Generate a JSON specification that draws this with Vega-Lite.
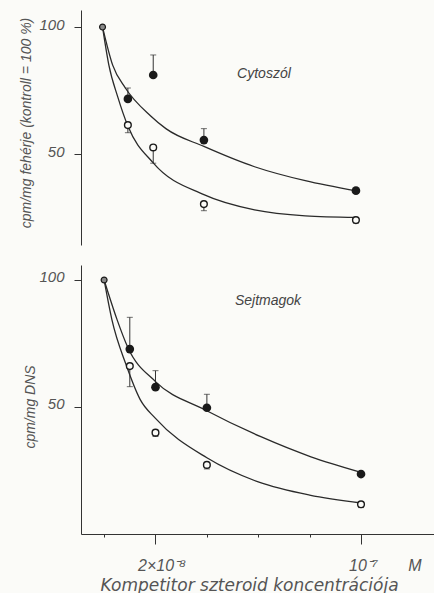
{
  "$schema": "https://vega.github.io/schema/vega-lite/v6.json",
  "background": "#fbfbf8",
  "padding": {"left": 18, "top": 10, "right": 0, "bottom": 0},
  "bounds": "flush",
  "spacing": 20,
  "config": {
    "view": {"stroke": null},
    "axis": {
      "grid": false,
      "labelFont": "Liberation Sans",
      "titleFont": "Liberation Sans",
      "labelFontStyle": "italic",
      "titleFontStyle": "italic",
      "titleFontWeight": "normal",
      "labelColor": "#555",
      "titleColor": "#555",
      "domainColor": "#333",
      "tickColor": "#333"
    },
    "text": {"font": "Liberation Sans"}
  },
  "datasets": {
    "points": [
      {"panel": "Cytoszól", "group": "control", "x": 0, "y": 100},
      {"panel": "Cytoszól", "group": "filled", "x": 1, "y": 71.7},
      {"panel": "Cytoszól", "group": "filled", "x": 2, "y": 81.1},
      {"panel": "Cytoszól", "group": "filled", "x": 4, "y": 55.5},
      {"panel": "Cytoszól", "group": "filled", "x": 10, "y": 35.6},
      {"panel": "Cytoszól", "group": "open", "x": 1, "y": 61.4},
      {"panel": "Cytoszól", "group": "open", "x": 2, "y": 52.6},
      {"panel": "Cytoszól", "group": "open", "x": 4, "y": 30.3},
      {"panel": "Cytoszól", "group": "open", "x": 10, "y": 24},
      {"panel": "Sejtmagok", "group": "control", "x": 0, "y": 100},
      {"panel": "Sejtmagok", "group": "filled", "x": 1, "y": 72.8},
      {"panel": "Sejtmagok", "group": "filled", "x": 2, "y": 57.8},
      {"panel": "Sejtmagok", "group": "filled", "x": 4, "y": 49.7},
      {"panel": "Sejtmagok", "group": "filled", "x": 10, "y": 23.6},
      {"panel": "Sejtmagok", "group": "open", "x": 1, "y": 66.1},
      {"panel": "Sejtmagok", "group": "open", "x": 2, "y": 39.9},
      {"panel": "Sejtmagok", "group": "open", "x": 4, "y": 27.2},
      {"panel": "Sejtmagok", "group": "open", "x": 10, "y": 11.7}
    ],
    "errors": [
      {"panel": "Cytoszól", "group": "filled", "x": 1, "y": 71.7, "yEnd": 76},
      {"panel": "Cytoszól", "group": "filled", "x": 2, "y": 81.1, "yEnd": 89},
      {"panel": "Cytoszól", "group": "filled", "x": 4, "y": 55.5, "yEnd": 60},
      {"panel": "Cytoszól", "group": "open", "x": 1, "y": 61.4, "yEnd": 58.4},
      {"panel": "Cytoszól", "group": "open", "x": 2, "y": 52.6, "yEnd": 46.4},
      {"panel": "Cytoszól", "group": "open", "x": 4, "y": 30.3, "yEnd": 27.7},
      {"panel": "Cytoszól", "group": "open", "x": 10, "y": 24, "yEnd": 22.8},
      {"panel": "Sejtmagok", "group": "filled", "x": 1, "y": 72.8, "yEnd": 85.3},
      {"panel": "Sejtmagok", "group": "filled", "x": 2, "y": 57.8, "yEnd": 64.3},
      {"panel": "Sejtmagok", "group": "filled", "x": 4, "y": 49.7, "yEnd": 55},
      {"panel": "Sejtmagok", "group": "open", "x": 1, "y": 66.1, "yEnd": 58},
      {"panel": "Sejtmagok", "group": "open", "x": 2, "y": 39.9, "yEnd": 38.4},
      {"panel": "Sejtmagok", "group": "open", "x": 4, "y": 27.2, "yEnd": 25.6},
      {"panel": "Sejtmagok", "group": "open", "x": 10, "y": 11.7, "yEnd": 10.4}
    ],
    "curves": [
      {"panel": "Cytoszól", "group": "filled", "x": 0, "y": 100},
      {"panel": "Cytoszól", "group": "filled", "x": 0.4, "y": 85},
      {"panel": "Cytoszól", "group": "filled", "x": 0.9, "y": 76},
      {"panel": "Cytoszól", "group": "filled", "x": 1.9, "y": 65},
      {"panel": "Cytoszól", "group": "filled", "x": 2.5, "y": 60},
      {"panel": "Cytoszól", "group": "filled", "x": 4, "y": 53},
      {"panel": "Cytoszól", "group": "filled", "x": 6, "y": 45},
      {"panel": "Cytoszól", "group": "filled", "x": 8, "y": 39.5},
      {"panel": "Cytoszól", "group": "filled", "x": 10, "y": 35.5},
      {"panel": "Cytoszól", "group": "open", "x": 0, "y": 100},
      {"panel": "Cytoszól", "group": "open", "x": 0.25, "y": 85},
      {"panel": "Cytoszól", "group": "open", "x": 0.6, "y": 72.5},
      {"panel": "Cytoszól", "group": "open", "x": 1, "y": 61},
      {"panel": "Cytoszól", "group": "open", "x": 2, "y": 46.5},
      {"panel": "Cytoszól", "group": "open", "x": 4, "y": 34},
      {"panel": "Cytoszól", "group": "open", "x": 6, "y": 28},
      {"panel": "Cytoszól", "group": "open", "x": 8, "y": 25.7},
      {"panel": "Cytoszól", "group": "open", "x": 10, "y": 25.1},
      {"panel": "Sejtmagok", "group": "filled", "x": 0, "y": 100},
      {"panel": "Sejtmagok", "group": "filled", "x": 0.5, "y": 84.5},
      {"panel": "Sejtmagok", "group": "filled", "x": 0.92, "y": 73.5},
      {"panel": "Sejtmagok", "group": "filled", "x": 2, "y": 60},
      {"panel": "Sejtmagok", "group": "filled", "x": 3.9, "y": 49},
      {"panel": "Sejtmagok", "group": "filled", "x": 6.1, "y": 38.3},
      {"panel": "Sejtmagok", "group": "filled", "x": 8.05, "y": 30.4},
      {"panel": "Sejtmagok", "group": "filled", "x": 10, "y": 24.3},
      {"panel": "Sejtmagok", "group": "open", "x": 0, "y": 100},
      {"panel": "Sejtmagok", "group": "open", "x": 0.3, "y": 84.5},
      {"panel": "Sejtmagok", "group": "open", "x": 0.86, "y": 66.5},
      {"panel": "Sejtmagok", "group": "open", "x": 1.4, "y": 53},
      {"panel": "Sejtmagok", "group": "open", "x": 2, "y": 45.5},
      {"panel": "Sejtmagok", "group": "open", "x": 4, "y": 30},
      {"panel": "Sejtmagok", "group": "open", "x": 6, "y": 20.5},
      {"panel": "Sejtmagok", "group": "open", "x": 8, "y": 15.3},
      {"panel": "Sejtmagok", "group": "open", "x": 10, "y": 12.2}
    ],
    "labels": [
      {"panel": "Cytoszól", "x": 6.37, "y": 81.5, "label": "Cytoszól"},
      {"panel": "Sejtmagok", "x": 6.38, "y": 91.7, "label": "Sejtmagok"}
    ]
  },
  "resolve": {"scale": {"x": "independent", "y": "independent"}},
  "vconcat": [
    {
      "width": 354,
      "height": 235,
      "encoding": {
        "x": {"field": "x", "type": "quantitative", "scale": {"domain": [-0.85, 13.12], "nice": false, "zero": false}, "axis": null},
        "y": {
          "field": "y", "type": "quantitative",
          "scale": {"domain": [14.2, 106.7], "nice": false, "zero": false},
          "axis": {
            "title": "cpm/mg fehérje (kontroll = 100 %)",
            "values": [50, 100],
            "tickSize": 7,
            "labelPadding": 10,
            "labelFontSize": 15,
            "labelBaseline": "middle",
            "labelOffset": -3,
            "titleFontSize": 14,
            "titleX": -55,
            "titleY": 112.5,
            "titleBaseline": "middle"
          }
        }
      },
      "layer": [
        {
          "data": {"name": "errors"},
          "transform": [{"filter": "datum.panel == 'Cytoszól'"}],
          "mark": {"type": "rule", "color": "#333", "strokeWidth": 1},
          "encoding": {"y2": {"field": "yEnd"}}
        },
        {
          "data": {"name": "errors"},
          "transform": [{"filter": "datum.panel == 'Cytoszól'"}],
          "mark": {"type": "tick", "orient": "horizontal", "color": "#333", "size": 6, "thickness": 1},
          "encoding": {"y": {"field": "yEnd", "type": "quantitative"}}
        },
        {
          "data": {"name": "curves"},
          "transform": [{"filter": "datum.panel == 'Cytoszól'"}],
          "mark": {"type": "line", "interpolate": "monotone", "color": "#2a2a2a", "strokeWidth": 1.3},
          "encoding": {"detail": {"field": "group"}}
        },
        {
          "data": {"name": "points"},
          "transform": [{"filter": "datum.panel == 'Cytoszól' && datum.group == 'filled'"}],
          "mark": {"type": "circle", "color": "#1a1a1a", "opacity": 1, "size": 75}
        },
        {
          "data": {"name": "points"},
          "transform": [{"filter": "datum.panel == 'Cytoszól' && datum.group == 'open'"}],
          "mark": {"type": "point", "shape": "circle", "filled": false, "fill": "#fbfbf8", "fillOpacity": 1, "stroke": "#1a1a1a", "strokeWidth": 1.4, "opacity": 1, "size": 45}
        },
        {
          "data": {"name": "points"},
          "transform": [{"filter": "datum.panel == 'Cytoszól' && datum.group == 'control'"}],
          "mark": {"type": "point", "shape": "circle", "filled": false, "fill": "#888", "fillOpacity": 1, "stroke": "#1a1a1a", "strokeWidth": 1.2, "opacity": 1, "size": 35}
        },
        {
          "data": {"name": "labels"},
          "transform": [{"filter": "datum.panel == 'Cytoszól'"}],
          "mark": {"type": "text", "fontStyle": "italic", "fontSize": 14, "color": "#444", "align": "center", "baseline": "middle"},
          "encoding": {"text": {"field": "label"}}
        }
      ]
    },
    {
      "width": 354,
      "height": 269,
      "encoding": {
        "x": {
          "field": "x", "type": "quantitative",
          "scale": {"domain": [-0.9, 12.88], "nice": false, "zero": false},
          "axis": {
            "title": "Kompetitor szteroid koncentrációja",
            "values": [0, 2, 4, 6, 8, 10, 12],
            "labelExpr": "datum.value == 2 ? '2×10⁻⁸' : datum.value == 10 ? '10⁻⁷' : datum.value == 12 ? 'M' : ''",
            "tickSize": {"condition": {"test": "datum.value == 2 || datum.value == 10 || datum.value == 12", "value": 10}, "value": 3},
            "tickOpacity": {"condition": {"test": "datum.value == 12", "value": 0}, "value": 1},
            "labelOffset": {"condition": {"test": "datum.value == 2", "value": 6}, "value": 2},
            "labelPadding": 13,
            "labelFontSize": 16,
            "labelFlush": false,
            "labelOverlap": false,
            "titleFont": "DejaVu Sans",
            "titleFontSize": 17,
            "titleX": 168,
            "titleY": 51,
            "titleBaseline": "middle"
          }
        },
        "y": {
          "field": "y", "type": "quantitative",
          "scale": {"domain": [0, 105.9], "nice": false, "zero": false},
          "axis": {
            "title": "cpm/mg DNS",
            "values": [50, 100],
            "tickSize": 7,
            "labelPadding": 10,
            "labelFontSize": 15,
            "labelBaseline": "middle",
            "labelOffset": -3,
            "titleFontSize": 14,
            "titleX": -51,
            "titleY": 141.5,
            "titleBaseline": "middle"
          }
        }
      },
      "layer": [
        {
          "data": {"name": "errors"},
          "transform": [{"filter": "datum.panel == 'Sejtmagok'"}],
          "mark": {"type": "rule", "color": "#333", "strokeWidth": 1},
          "encoding": {"y2": {"field": "yEnd"}}
        },
        {
          "data": {"name": "errors"},
          "transform": [{"filter": "datum.panel == 'Sejtmagok'"}],
          "mark": {"type": "tick", "orient": "horizontal", "color": "#333", "size": 6, "thickness": 1},
          "encoding": {"y": {"field": "yEnd", "type": "quantitative"}}
        },
        {
          "data": {"name": "curves"},
          "transform": [{"filter": "datum.panel == 'Sejtmagok'"}],
          "mark": {"type": "line", "interpolate": "monotone", "color": "#2a2a2a", "strokeWidth": 1.3},
          "encoding": {"detail": {"field": "group"}}
        },
        {
          "data": {"name": "points"},
          "transform": [{"filter": "datum.panel == 'Sejtmagok' && datum.group == 'filled'"}],
          "mark": {"type": "circle", "color": "#1a1a1a", "opacity": 1, "size": 75}
        },
        {
          "data": {"name": "points"},
          "transform": [{"filter": "datum.panel == 'Sejtmagok' && datum.group == 'open'"}],
          "mark": {"type": "point", "shape": "circle", "filled": false, "fill": "#fbfbf8", "fillOpacity": 1, "stroke": "#1a1a1a", "strokeWidth": 1.4, "opacity": 1, "size": 45}
        },
        {
          "data": {"name": "points"},
          "transform": [{"filter": "datum.panel == 'Sejtmagok' && datum.group == 'control'"}],
          "mark": {"type": "point", "shape": "circle", "filled": false, "fill": "#888", "fillOpacity": 1, "stroke": "#1a1a1a", "strokeWidth": 1.2, "opacity": 1, "size": 35}
        },
        {
          "data": {"name": "labels"},
          "transform": [{"filter": "datum.panel == 'Sejtmagok'"}],
          "mark": {"type": "text", "fontStyle": "italic", "fontSize": 14, "color": "#444", "align": "center", "baseline": "middle"},
          "encoding": {"text": {"field": "label"}}
        }
      ]
    }
  ]
}
